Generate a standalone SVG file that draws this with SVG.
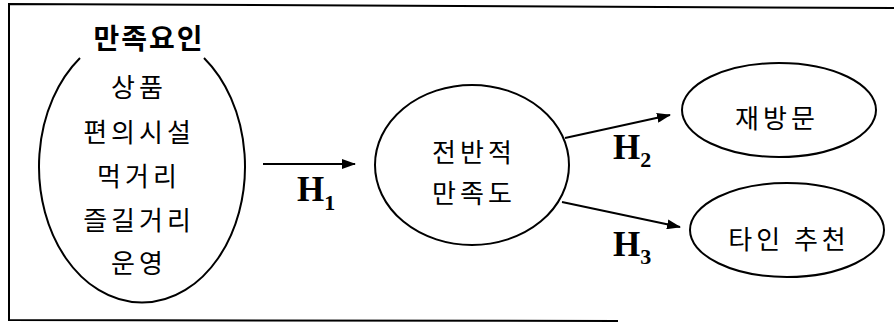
<svg xmlns="http://www.w3.org/2000/svg" width="894" height="324" viewBox="0 0 894 324">
<style>
.ol{fill:none;stroke:#000;stroke-width:2}
.kt{font-family:"Noto Sans CJK KR","Noto Sans",sans-serif;font-size:26px;letter-spacing:4px;text-anchor:middle;fill:#000}
.tt{font-family:"Noto Sans CJK KR","Noto Sans",sans-serif;font-size:28px;font-weight:bold;letter-spacing:2px;text-anchor:middle;fill:#000}
.hl{font-family:"Liberation Serif",serif;font-size:35px;font-weight:bold;fill:#000}
.sb{font-size:22px}
.cn{stroke:#000;stroke-width:2;fill:none}
</style>
<defs>
<marker id="ah" viewBox="0 0 14 10" refX="13" refY="5" markerWidth="14" markerHeight="10" markerUnits="userSpaceOnUse" orient="auto">
<path d="M0,0 L14,5 L0,10 z" fill="#000"/>
</marker>
</defs>
<g id="frame">
<polyline class="ol" points="894,8 9,4 9,320 618,321"/>
</g>
<g id="node-satisfaction-factors">
<path class="ol" d="M80,58 A103 136 0 1 0 204,58"/>
<text class="tt" x="149" y="49">만족요인</text>
<text class="kt" x="139" y="97">상품</text>
<text class="kt" x="139" y="142">편의시설</text>
<text class="kt" x="139" y="186">먹거리</text>
<text class="kt" x="139" y="230">즐길거리</text>
<text class="kt" x="139" y="273">운영</text>
</g>
<g id="node-overall">
<ellipse class="ol" cx="472" cy="165" rx="97" ry="80"/>
<text class="kt" x="474" y="162">전반적</text>
<text class="kt" x="474" y="203">만족도</text>
</g>
<g id="node-revisit">
<ellipse class="ol" cx="779" cy="110" rx="97" ry="47"/>
<text class="kt" x="777" y="128">재방문</text>
</g>
<g id="node-recommend">
<ellipse class="ol" cx="787" cy="230" rx="97" ry="47"/>
<text class="kt" x="789" y="249">타인 추천</text>
</g>
<g id="connectors">
<line class="cn" x1="263" y1="164" x2="355" y2="164" marker-end="url(#ah)"/>
<line class="cn" x1="565" y1="138" x2="670" y2="115" marker-end="url(#ah)"/>
<line class="cn" x1="562" y1="202" x2="680" y2="227" marker-end="url(#ah)"/>
<text class="hl" x="297" y="201">H<tspan class="sb" dy="9">1</tspan></text>
<text class="hl" x="613" y="159">H<tspan class="sb" dy="8">2</tspan></text>
<text class="hl" x="613" y="256">H<tspan class="sb" dy="8">3</tspan></text>
</g>
</svg>
